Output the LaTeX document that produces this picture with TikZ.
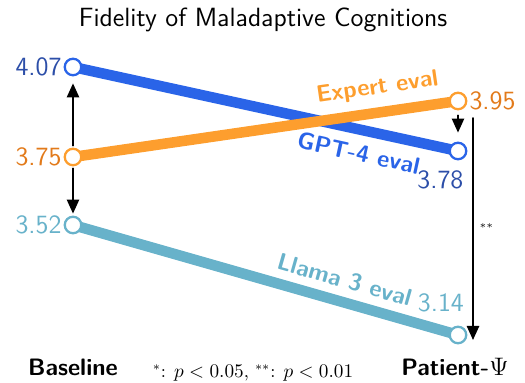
\documentclass[tikz,border=0pt]{standalone}
\usepackage{amsmath}
\usetikzlibrary{arrows.meta}
\definecolor{gptblue}{RGB}{42,100,232}
\definecolor{gptdark}{RGB}{44,78,168}
\definecolor{expertorange}{RGB}{253,158,46}
\definecolor{expertdark}{RGB}{226,122,26}
\definecolor{llamateal}{RGB}{104,178,202}
\tikzset{
	score/.style={circle,draw=#1,fill=white,line width=1.3pt,minimum size=0.33cm,inner sep=0pt},
	trend/.style={line width=6pt,color=#1},
	val/.style={font=\fontsize{15}{18}\selectfont\sffamily,text=#1,inner sep=1pt},
	evallabel/.style={font=\fontsize{13.5}{16}\selectfont\sffamily\bfseries,text=#1,sloped,inner sep=0pt},
	gap/.style={->,line width=1pt,black}
}
\begin{document}
\begin{tikzpicture}[line cap=round,line join=round,>={Triangle[length=8pt,width=7pt]},x=1.0cm,y=1.0cm]
		\useasboundingbox (0,0) rectangle (10.5,7.66);
		\coordinate (gptL) at (1.46,6.32);
		\coordinate (gptR) at (9.16,4.64);
		\coordinate (expL) at (1.46,4.52);
		\coordinate (expR) at (9.16,5.64);
		\coordinate (llaL) at (1.46,3.16);
		\coordinate (llaR) at (9.16,0.96);
		\draw [trend=gptblue] (gptL) -- (gptR) node[evallabel=gptblue,pos=0.755,below=0.19cm] {GPT-4 eval};
		\draw [trend=expertorange] (expL) -- (expR) node[evallabel=expertorange,pos=0.8,above=0.17cm] {Expert eval};
		\draw [trend=llamateal] (llaL) -- (llaR) node[evallabel=llamateal,pos=0.69,above=0.16cm] {Llama 3 eval};
		\node [score=gptblue] (gptLm) at (gptL) {};
		\node [score=gptblue] (gptRm) at (gptR) {};
		\node [score=expertorange] (expLm) at (expL) {};
		\node [score=expertorange] (expRm) at (expR) {};
		\node [score=llamateal] (llaLm) at (llaL) {};
		\node [score=llamateal] (llaRm) at (llaR) {};
		\node [val=gptdark,left] at (gptLm.west) {4.07};
		\node [val=expertdark,left] at (expLm.west) {3.75};
		\node [val=llamateal,left] at (llaLm.west) {3.52};
		\node [val=expertdark,right] at (expRm.east) {3.95};
		\node [val=gptdark,anchor=north east,xshift=0.15cm,yshift=-0.16cm] at (gptRm.south) {3.78};
		\node [val=llamateal,anchor=south east,xshift=0.16cm,yshift=0.22cm] at (llaRm.north) {3.14};
		% differences
		\draw [gap,shorten <=0.04cm,shorten >=0.14cm] (expLm.north) -- (gptLm.south);
		\draw [gap,shorten <=0.04cm,shorten >=0.04cm] (expLm.south) -- (llaLm.north);
		\draw [gap,shorten <=0.1cm,shorten >=0.18cm] (expRm.south) -- (gptRm.north);
		\coordinate (sigtop) at (9.46,5.3);
		\coordinate (sigbot) at (9.46,0.86);
		\draw [gap] (sigtop) -- (sigbot) node[midway,right,font=\small] {$^{**}$};
		\node [font=\fontsize{15}{18}\selectfont\sffamily] (title) at (5.26,7.26) {Fidelity of Maladaptive Cognitions};
		\node [font=\fontsize{13.5}{16}\selectfont\sffamily\bfseries] (base) at (1.46,0.32) {Baseline};
		\node [font=\fontsize{13.5}{16}\selectfont\sffamily\bfseries] (pat) at (9.1,0.32) {Patient-$\Psi$};
		\node [font=\fontsize{10.5}{12}\selectfont] (note) at (5.06,0.2) {$^*$: $p<0.05$, $^{**}$: $p<0.01$};
	\end{tikzpicture}
\end{document}
